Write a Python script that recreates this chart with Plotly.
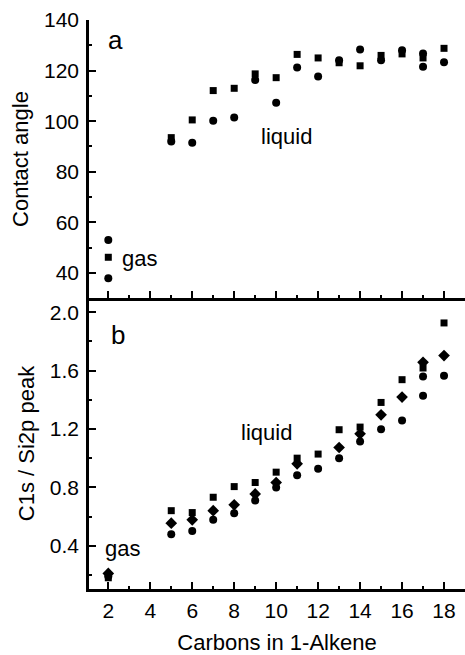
import plotly.graph_objects as go

# ---------- data ----------
carbons = [2, 5, 6, 7, 8, 9, 10, 11, 12, 13, 14, 15, 16, 17, 18]

# panel a: contact angle
ca_square = [46.2, 93.5, 100.5, 112.1, 113.0, 118.7, 117.2, 126.4, 125.0, 123.1, 121.9, 126.0, 126.6, 125.0, 128.8]
ca_circle = [37.9, 92.0, 91.5, 100.2, 101.5, 116.3, 107.3, 121.2, 117.7, 124.1, 128.3, 124.1, 128.0, 121.5, 123.3]
ca_circle_extra_x = [2, 17]
ca_circle_extra = [53.0, 126.8]

# panel b: C1s / Si2p ratio
xp_square = [0.18, 0.640, 0.627, 0.732, 0.805, 0.833, 0.904, 1.000, 1.028, 1.195, 1.213, 1.382, 1.538, 1.618, 1.927]
xp_diamond = [0.21, 0.554, 0.577, 0.640, 0.680, 0.755, 0.833, 0.961, None, 1.073, 1.167, 1.297, 1.419, 1.657, 1.703]
xp_circle = [0.19, 0.478, 0.501, 0.577, 0.622, 0.709, 0.798, 0.883, 0.927, 1.000, 1.114, 1.199, 1.258, 1.428, 1.565]
xp_circle_extra_x = [17]
xp_circle_extra = [1.560]

x_ticks = [2, 4, 6, 8, 10, 12, 14, 16, 18]

FONT = "Liberation Sans, Arial, sans-serif"
BLACK = "#000000"
TICK_SIZE = 21
TEXT_SIZE = 22
LETTER_SIZE = 26

fig = go.Figure()

def add(x, y, symbol, size, xa, ya):
    fig.add_trace(go.Scatter(
        x=x, y=y, mode="markers", xaxis=xa, yaxis=ya,
        marker=dict(symbol=symbol, size=size, color=BLACK, line=dict(width=0)),
        showlegend=False, hoverinfo="x+y"))

# top panel (x2/y2)
add(carbons, ca_square, "square", 7, "x2", "y2")
add(carbons, ca_circle, "circle", 8, "x2", "y2")
add(ca_circle_extra_x, ca_circle_extra, "circle", 8, "x2", "y2")

# bottom panel (x/y)
add(carbons, xp_square, "square", 7, "x", "y")
add(carbons, xp_diamond, "diamond", 9, "x", "y")
add(carbons, xp_circle, "circle", 8, "x", "y")
add(xp_circle_extra_x, xp_circle_extra, "circle", 8, "x", "y")

split = (589 - 298) / 569.0
x_range = [1.08, 19.0]

common_axis = dict(
    showline=True, linecolor=BLACK, linewidth=2.5, showgrid=False, zeroline=False,
    ticks="inside", ticklen=7, tickwidth=2, tickcolor=BLACK,
    tickfont=dict(family=FONT, size=TICK_SIZE, color=BLACK),
)
minor_common = dict(ticks="inside", ticklen=3, tickwidth=2, tickcolor=BLACK)
title_font = dict(family=FONT, size=TEXT_SIZE, color=BLACK)

fig.update_layout(
    width=465, height=655,
    margin=dict(l=89, r=0, t=20, b=66),
    paper_bgcolor="white", plot_bgcolor="white",
    showlegend=False,
    font=dict(family=FONT, color=BLACK),
    xaxis=dict(
        **common_axis, domain=[0, 1], anchor="y", range=x_range,
        tickmode="array", tickvals=x_ticks, ticktext=[str(v) for v in x_ticks],
        minor=dict(**minor_common, dtick=1, tick0=1),
        ticklabelstandoff=1,
        title=dict(text="Carbons in 1-Alkene", font=title_font, standoff=14),
    ),
    yaxis=dict(
        **common_axis, domain=[0, split], anchor="x", range=[0.103, 2.098],
        tick0=0.4, dtick=0.4, tickformat=".1f",
        minor=dict(**minor_common, dtick=0.2, tick0=0.2),
        ticklabelstandoff=3,
        title=dict(text="C1s / Si2p peak", font=title_font, standoff=10),
    ),
    xaxis2=dict(
        **common_axis, domain=[0, 1], anchor="y2", range=x_range,
        tickmode="array", tickvals=x_ticks, showticklabels=False,
        minor=dict(**minor_common, dtick=1, tick0=1),
    ),
    yaxis2=dict(
        **common_axis, domain=[split, 1], anchor="x2", range=[30.1, 140],
        tick0=40, dtick=20,
        minor=dict(**minor_common, dtick=10, tick0=30),
        ticklabelstandoff=3,
        title=dict(text="Contact angle", font=title_font, standoff=10),
    ),
)

ann_font = dict(family=FONT, size=TEXT_SIZE, color=BLACK)
letter_font = dict(family=FONT, size=LETTER_SIZE, color=BLACK)
annotations = [
    dict(x=2.32, y=132.1, xref="x2", yref="y2", text="a", font=letter_font),
    dict(x=3.51, y=45.9, xref="x2", yref="y2", text="gas", font=ann_font),
    dict(x=10.5, y=93.9, xref="x2", yref="y2", text="liquid", font=ann_font),
    dict(x=2.46, y=1.844, xref="x", yref="y", text="b", font=letter_font),
    dict(x=2.70, y=0.381, xref="x", yref="y", text="gas", font=ann_font),
    dict(x=9.56, y=1.178, xref="x", yref="y", text="liquid", font=ann_font),
]
for a in annotations:
    a.update(showarrow=False, xanchor="center", yanchor="middle")
fig.update_layout(annotations=annotations)

fig.write_html("out.html")
